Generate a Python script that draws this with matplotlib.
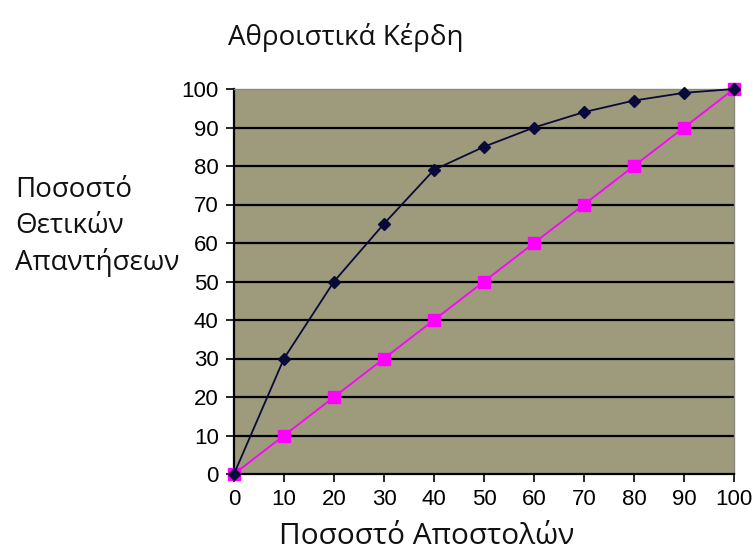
import matplotlib
matplotlib.use("Agg")
import matplotlib.pyplot as plt

# Percent of mailings sent vs. cumulative percent of positive responses
sent_pct = [0, 10, 20, 30, 40, 50, 60, 70, 80, 90, 100]
model_gain = [0, 30, 50, 65, 79, 85, 90, 94, 97, 99, 100]
random_gain = [0, 10, 20, 30, 40, 50, 60, 70, 80, 90, 100]
y_ticks = [0, 10, 20, 30, 40, 50, 60, 70, 80, 90, 100]

title_text = "Αθροιστικά Κέρδη"
xlabel_text = "Ποσοστό Αποστολών"
ylabel_lines = ["Ποσοστό", "Θετικών", "Απαντήσεων"]

fig = plt.figure(figsize=(7.53, 5.54), dpi=100)
ax = fig.add_axes([234 / 753, 80 / 554, 500 / 753, 385 / 554])
ax.set_facecolor("#9d9b7c")

for v in y_ticks[1:-1]:
    ax.axhline(v, color="black", lw=1.6, zorder=1)

ax.plot(sent_pct, random_gain, color="#ff00ff", lw=1.3, marker="s",
        markersize=9, markerfacecolor="#ff00ff", markeredgecolor="#ff00ff",
        zorder=3, clip_on=False)
ax.plot(sent_pct, model_gain, color="#0a0a3a", lw=1.3, marker="D",
        markersize=6.5, markerfacecolor="#0a0a3a", markeredgecolor="#0a0a3a",
        zorder=4, clip_on=False)

ax.set_xlim(0, 100)
ax.set_ylim(0, 100)
ax.set_xticks(sent_pct)
ax.set_yticks(y_ticks)
tick_font = {"family": "Liberation Sans", "size": 16}
ax.set_xticklabels([str(v) for v in sent_pct], fontdict=tick_font)
ax.set_yticklabels([str(v) for v in y_ticks], fontdict=tick_font)
ax.tick_params(direction="out", length=6, width=1.2, color="black", pad=5)

for side in ("left", "bottom"):
    ax.spines[side].set_color("black")
    ax.spines[side].set_linewidth(1.6)
for side in ("top", "right"):
    ax.spines[side].set_color("#8a8a7a")
    ax.spines[side].set_linewidth(1.0)

fig.text(346 / 753, 1 - 38 / 554, title_text, ha="center", va="center",
         fontsize=20, family="Open Sans", color="#111111")
fig.text(427 / 753, 1 - 537 / 554, xlabel_text, ha="center", va="center",
         fontsize=21.5, family="Open Sans", color="#111111")
for i, line in enumerate(ylabel_lines):
    fig.text(15 / 753, 1 - (190 + 36 * i) / 554, line, ha="left", va="center",
             fontsize=20, family="Open Sans", color="#111111")

fig.savefig("out.png", dpi=100, facecolor="white")
